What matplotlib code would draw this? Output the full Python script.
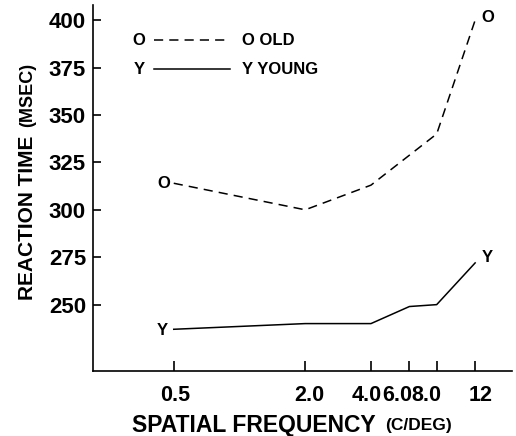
import matplotlib
matplotlib.use("Agg")
import matplotlib.pyplot as plt
from matplotlib.transforms import ScaledTranslation

plt.rcParams['font.family'] = ['Liberation Sans', 'DejaVu Sans']

freq_old = [0.5, 2.0, 4.0, 8.0, 12.0]
rt_old = [314, 300, 313, 340, 400]
freq_young = [0.5, 2.0, 4.0, 6.0, 8.0, 12.0]
rt_young = [237, 240, 240, 249, 250, 272]

xticks = [0.5, 2.0, 4.0, 6.0, 8.0, 12.0]
xtick_labels = ["0.5", "2.0", "4.0", "6.0", "8.0", "12"]
yticks = [250, 275, 300, 325, 350, 375, 400]

fig = plt.figure(figsize=(5.16, 4.36), dpi=100)
ax = fig.add_axes([93 / 516, 65 / 436, 419 / 516, 366 / 436])

ax.plot(freq_old, rt_old, color='black', lw=1.1, ls=(0, (6, 4)))
ax.plot(freq_young, rt_young, color='black', lw=1.1)

ax.set_xscale('log')
ax.set_xlim(0.2134, 17.7)
ax.set_ylim(215, 408)
ax.set_xticks(xticks)
ax.set_xticklabels(xtick_labels)
ax.minorticks_off()
ax.set_yticks(yticks)

for s in ['top', 'right']:
    ax.spines[s].set_visible(False)
for s in ['left', 'bottom']:
    ax.spines[s].set_linewidth(1.2)

ax.tick_params(axis='both', direction='in', width=1.2, labelsize=16)
ax.tick_params(axis='x', length=7, pad=10, labelsize=15.5)
ax.tick_params(axis='y', length=6, pad=5)
for lab in ax.get_xticklabels() + ax.get_yticklabels():
    lab.set_fontweight('bold')

# crowded x labels are nudged sideways like in the original
shifts = [1, 4, -4, -12, -10, 5]
for lab, dx in zip(ax.get_xticklabels(), shifts):
    lab.set_transform(lab.get_transform() + ScaledTranslation(dx / 100, 0, fig.dpi_scale_trans))

# letter markers
mk = dict(fontsize=12, fontweight='bold', ha='center', va='center',
          textcoords='offset points')
ax.annotate("O", (freq_old[0], rt_old[0]), xytext=(-7, 0), **mk)
ax.annotate("O", (freq_old[-1], rt_old[-1]), xytext=(9, 2), **mk)
ax.annotate("Y", (freq_young[0], rt_young[0]), xytext=(-8, -1), **mk)
ax.annotate("Y", (freq_young[-1], rt_young[-1]), xytext=(9, 4), **mk)

# legend drawn by hand
def ax_x(px):
    return (px - 93) / 419

def ax_y(py):
    return (371 - py) / 366

for py, letter, name, ls in [(40, "O", "O OLD", (0, (6, 4))), (69, "Y", "Y YOUNG", '-')]:
    ax.text(ax_x(139), ax_y(py), letter, transform=ax.transAxes, fontsize=12,
            fontweight='bold', ha='center', va='center')
    ax.plot([ax_x(154), ax_x(230)], [ax_y(py), ax_y(py)], transform=ax.transAxes,
            color='black', lw=1.1, ls=ls)
    ax.text(ax_x(242), ax_y(py), name, transform=ax.transAxes, fontsize=12,
            fontweight='bold', ha='left', va='center')

# axis labels with smaller unit parts
fig.text(132 / 516, 1 - 425 / 436, "SPATIAL FREQUENCY", fontsize=16.5, fontweight='bold',
         ha='left', va='center')
fig.text(385 / 516, 1 - 425 / 436, "(C/DEG)", fontsize=12.5, fontweight='bold',
         ha='left', va='center')
fig.text(28 / 516, 1 - 300 / 436, "REACTION TIME", fontsize=15, fontweight='bold',
         ha='center', va='bottom', rotation=90)
fig.text(28 / 516, 1 - 127 / 436, "(MSEC)", fontsize=13, fontweight='bold',
         ha='center', va='bottom', rotation=90)

fig.savefig("out.png", dpi=100)
